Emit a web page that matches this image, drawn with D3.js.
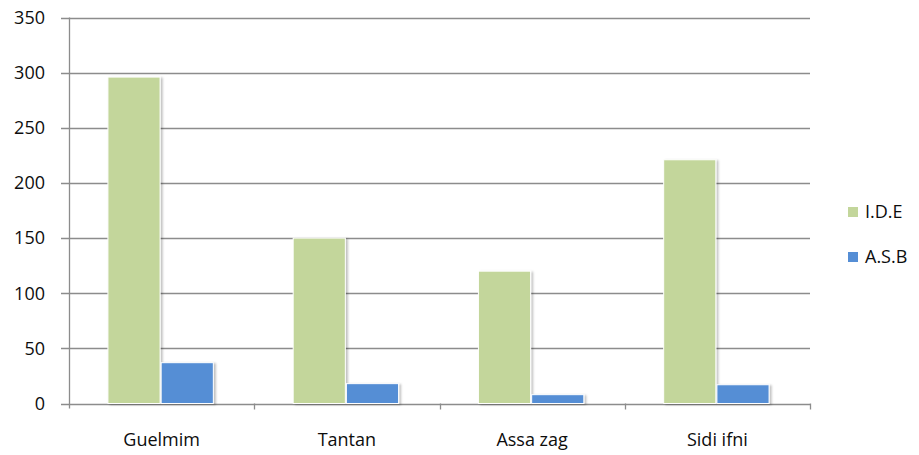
<!DOCTYPE html>
<html lang="fr">
<head>
<meta charset="UTF-8">
<script src="https://d3js.org/d3.v7.min.js"></script>
<style>
  body { margin: 0; background: #fff; }
  text { font-family: "Open Sans", "Noto Sans", sans-serif; fill: #0d0d0d; font-weight: 500; }
</style>
</head>
<body>
<svg id="chart" width="919" height="455"></svg>
<script>
var categories = ["Guelmim", "Tantan", "Assa zag", "Sidi ifni"];
var seriesNames = ["I.D.E", "A.S.B"];
var ide = [296, 150, 120, 221];
var asb = [37, 18, 8, 17];
var yTicks = [0, 50, 100, 150, 200, 250, 300, 350];
var colors = ["#c3d69b", "#558ed5"];

var svg = d3.select("#chart");
var plotLeft = 69, plotRight = 810, plotTop = 17.5, plotBottom = 403.5;

var x = d3.scaleBand().domain(categories).range([plotLeft, plotRight]).paddingInner(0).paddingOuter(0);
var x1 = d3.scaleBand().domain(seriesNames).range([0, x.bandwidth()]).paddingInner(0.02).paddingOuter(0.75);
var y = d3.scaleLinear().domain([0, 350]).range([plotBottom, plotTop]);

// gridlines
svg.append("g").selectAll("line").data(yTicks).join("line")
  .attr("x1", plotLeft - 8).attr("x2", plotRight)
  .attr("y1", d => Math.round(y(d)) + 0.5).attr("y2", d => Math.round(y(d)) + 0.5)
  .attr("stroke", "#8c8c8c").attr("stroke-width", 1.3);

// y labels
svg.append("g").selectAll("text").data(yTicks).join("text")
  .attr("x", 45).attr("y", d => y(d)).attr("dy", "0.35em")
  .attr("text-anchor", "end").attr("font-size", 18)
  .text(d => d);

// y axis line
svg.append("line").attr("x1", plotLeft + 0.5).attr("x2", plotLeft + 0.5)
  .attr("y1", plotTop).attr("y2", plotBottom + 5).attr("stroke", "#8c8c8c").attr("stroke-width", 1.3);

// bottom ticks
var bounds = categories.map(c => x(c) + x.bandwidth());
svg.append("g").selectAll("line").data(bounds).join("line")
  .attr("x1", d => Math.round(d) + 0.5).attr("x2", d => Math.round(d) + 0.5)
  .attr("y1", plotBottom).attr("y2", plotBottom + 6)
  .attr("stroke", "#8c8c8c").attr("stroke-width", 1.3);

var rows = categories.map((c, i) => ({cat: c, values: [ide[i], asb[i]]}));

var defs = svg.append("defs");
var f = defs.append("filter").attr("id", "sh").attr("x", "-20%").attr("y", "-20%").attr("width", "140%").attr("height", "140%");
f.append("feDropShadow").attr("dx", 2).attr("dy", 1).attr("stdDeviation", 1.2).attr("flood-color", "#000").attr("flood-opacity", 0.25);

var groups = svg.append("g").selectAll("g").data(rows).join("g")
  .attr("transform", d => "translate(" + (x(d.cat) - 1) + ",0)");

groups.selectAll("rect").data(d => d.values.map((v, j) => ({name: seriesNames[j], v: v, j: j}))).join("rect")
  .attr("x", d => x1(d.name))
  .attr("width", x1.bandwidth())
  .attr("y", d => y(d.v))
  .attr("height", d => plotBottom - y(d.v))
  .attr("fill", d => colors[d.j])
  .attr("stroke", "#fff").attr("stroke-width", 1)
  .attr("filter", "url(#sh)");

// category labels
svg.append("g").selectAll("text").data(categories).join("text")
  .attr("x", d => x(d) + x.bandwidth() / 2).attr("y", 446)
  .attr("text-anchor", "middle").attr("font-size", 18)
  .text(d => d);

// legend
var leg = svg.append("g").selectAll("g").data(seriesNames).join("g")
  .attr("transform", (d, i) => "translate(848," + (212 + i * 45) + ")");
leg.append("rect").attr("x", 0).attr("y", -5).attr("width", 10).attr("height", 10)
  .attr("fill", (d, i) => colors[i]);
leg.append("text").attr("x", 17).attr("y", 0).attr("dy", "0.35em").attr("font-size", 18)
  .text(d => d);
</script>
</body>
</html>
